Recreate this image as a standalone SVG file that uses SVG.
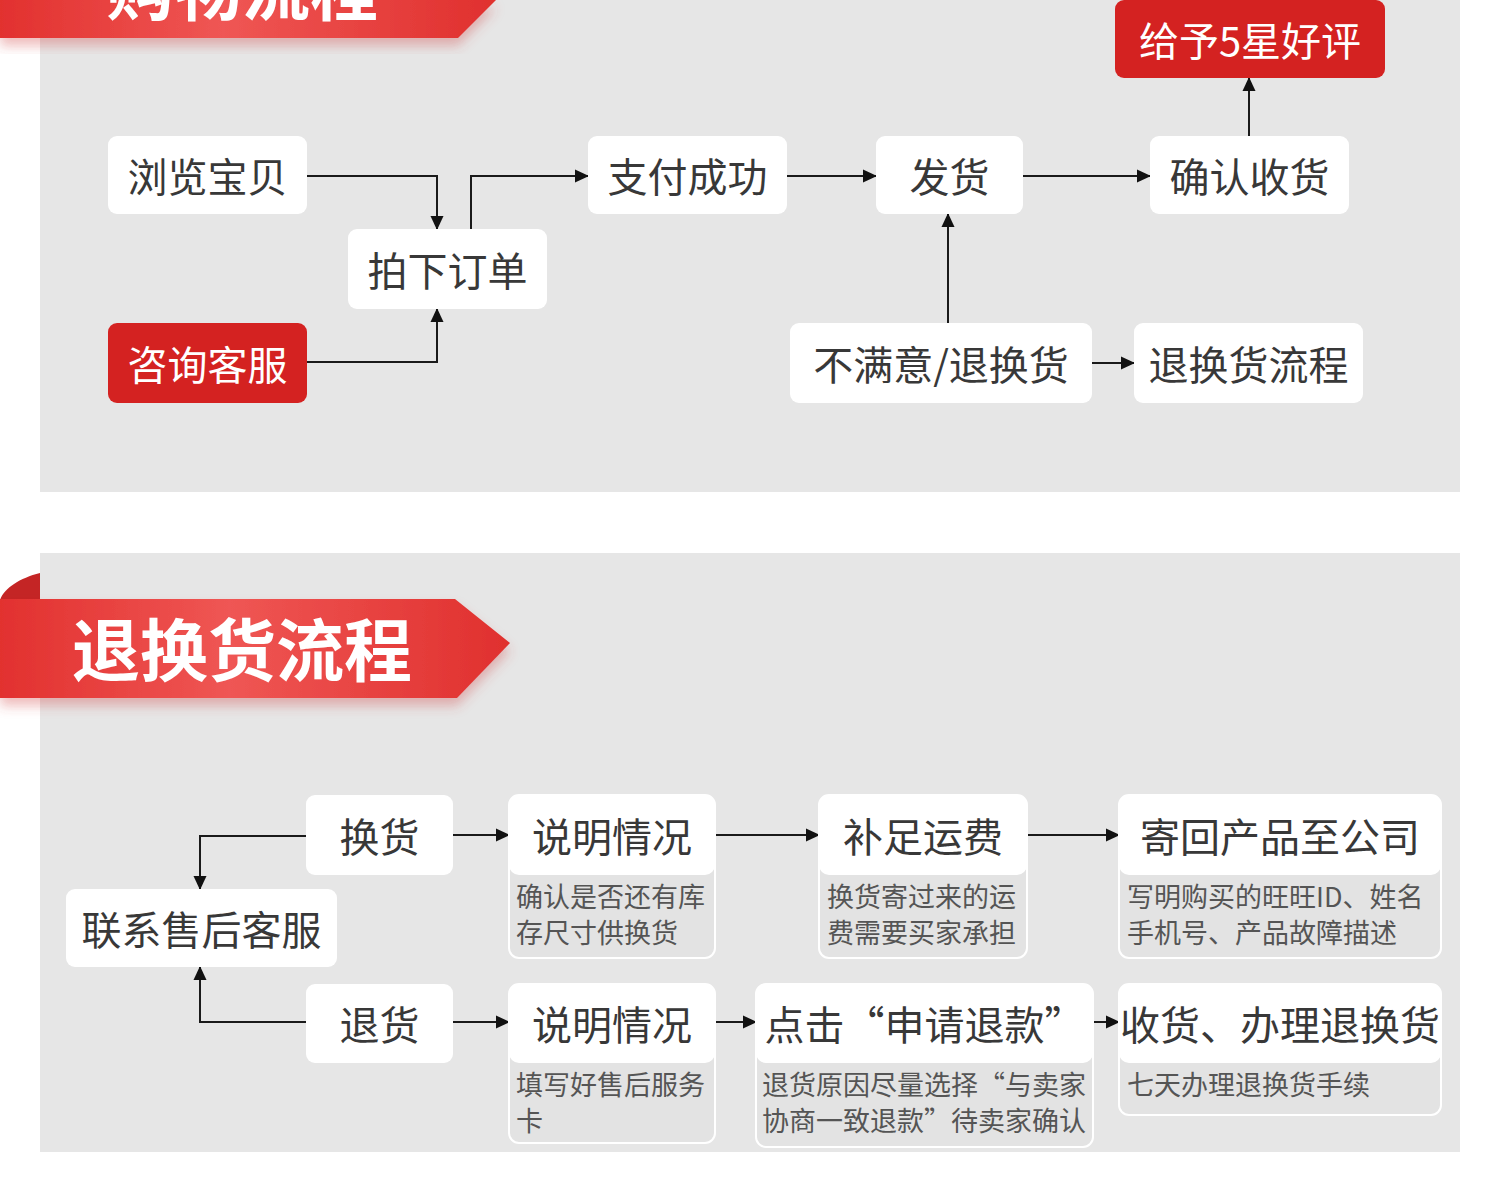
<svg xmlns="http://www.w3.org/2000/svg" width="1500" height="1193" viewBox="0 0 1500 1193">
<defs>
<linearGradient id="rib" x1="0" y1="0" x2="1" y2="0">
<stop offset="0" stop-color="#e2312f"/>
<stop offset="0.45" stop-color="#ef5654"/>
<stop offset="1" stop-color="#e0302e"/>
</linearGradient>
<filter id="sh" x="-10%" y="-20%" width="120%" height="160%">
<feDropShadow dx="0" dy="8" stdDeviation="6" flood-color="#d04040" flood-opacity="0.35"/>
</filter>
<marker id="ah" viewBox="0 0 14 16" refX="13" refY="8" markerWidth="14" markerHeight="16" markerUnits="userSpaceOnUse" orient="auto">
<path d="M0,1.5 L14,8 L0,14.5 Z" fill="#111111"/>
</marker>
<style>
text{font-family:"Noto Sans CJK SC","Noto Sans",sans-serif}
.n{fill:#ffffff}
.r{fill:#d42221}
.t{font-size:40px;fill:#383838;text-anchor:middle;dominant-baseline:central}
.tw{font-size:40px;fill:#ffffff;text-anchor:middle;dominant-baseline:central}
.sub{fill:#e3e3e3;stroke:#ffffff;stroke-width:2}
.s{font-size:27px;fill:#555555}
.ban{font-size:68px;font-weight:bold;fill:#ffffff;text-anchor:middle}
#connectors path{fill:none;stroke:#1a1a1a;stroke-width:2;marker-end:url(#ah)}
</style>
</defs>
<rect width="1500" height="1193" fill="#ffffff"/>
<rect x="40" y="0" width="1420" height="492" fill="#e6e6e6"/>
<rect x="40" y="553" width="1420" height="599" fill="#e6e6e6"/>

<g id="banner1">
<polygon points="0,0 496,0 458,38 0,38" fill="url(#rib)" filter="url(#sh)"/>
<text class="ban" x="242" y="15">购物流程</text>
</g>
<g id="banner2">
<path d="M40,573 C20,578 4,588 0,600 L40,600 Z" fill="#c42525"/>
<polygon points="0,599 455,599 510,643 457,698 0,698" fill="url(#rib)" filter="url(#sh)"/>
<text class="ban" x="242" y="676">退换货流程</text>
</g>

<g id="connectors">
<path d="M307,176 H437 V229"/>
<path d="M307,362 H437 V309"/>
<path d="M471,229 V176 H588"/>
<path d="M787,176 H876"/>
<path d="M1023,176 H1150"/>
<path d="M1249,136 V78"/>
<path d="M948,323 V214"/>
<path d="M1092,363 H1134"/>
<path d="M306,836 H200 V889"/>
<path d="M306,1022 H200 V967"/>
<path d="M453,835 H509"/>
<path d="M715,835 H819"/>
<path d="M1027,835 H1119"/>
<path d="M453,1022 H509"/>
<path d="M715,1022 H756"/>
<path d="M1093,1022 H1119"/>
</g>

<g id="n-browse"><rect class="n" x="108" y="136" width="199" height="78" rx="9"/><text class="t" x="207.5" y="175">浏览宝贝</text></g>
<g id="n-order"><rect class="n" x="348" y="229" width="199" height="80" rx="9"/><text class="t" x="447.5" y="269">拍下订单</text></g>
<g id="n-consult"><rect class="r" x="108" y="323" width="199" height="80" rx="9"/><text class="tw" x="207.5" y="363">咨询客服</text></g>
<g id="n-pay"><rect class="n" x="588" y="136" width="199" height="78" rx="9"/><text class="t" x="687.5" y="175">支付成功</text></g>
<g id="n-ship"><rect class="n" x="876" y="136" width="147" height="78" rx="9"/><text class="t" x="949.5" y="175">发货</text></g>
<g id="n-confirm"><rect class="n" x="1150" y="136" width="199" height="78" rx="9"/><text class="t" x="1249.5" y="175">确认收货</text></g>
<g id="n-rate"><rect class="r" x="1115" y="0" width="270" height="78" rx="9"/><text class="tw" x="1250" y="39">给予5星好评</text></g>
<g id="n-unsat"><rect class="n" x="790" y="323" width="302" height="80" rx="9"/><text class="t" x="941" y="363">不满意/退换货</text></g>
<g id="n-returnflow"><rect class="n" x="1134" y="323" width="229" height="80" rx="9"/><text class="t" x="1248.5" y="363">退换货流程</text></g>

<g id="n-aftersale"><rect class="n" x="66" y="889" width="271" height="78" rx="9"/><text class="t" x="201.5" y="928">联系售后客服</text></g>
<g id="n-exchange"><rect class="n" x="306" y="795" width="147" height="80" rx="9"/><text class="t" x="379.5" y="835">换货</text></g>
<g id="n-return"><rect class="n" x="306" y="984" width="147" height="79" rx="9"/><text class="t" x="379.5" y="1023">退货</text></g>

<g id="n-explain1">
<rect class="sub" x="509" y="795" width="206" height="163" rx="10"/>
<rect class="n" x="509" y="795" width="206" height="80" rx="10"/>
<text class="t" x="612" y="835">说明情况</text>
<text class="s" x="516" y="907">确认是否还有库</text>
<text class="s" x="516" y="943">存尺寸供换货</text>
</g>
<g id="n-freight">
<rect class="sub" x="819" y="795" width="208" height="163" rx="10"/>
<rect class="n" x="819" y="795" width="208" height="80" rx="10"/>
<text class="t" x="923" y="835">补足运费</text>
<text class="s" x="827" y="907">换货寄过来的运</text>
<text class="s" x="827" y="943">费需要买家承担</text>
</g>
<g id="n-sendback">
<rect class="sub" x="1119" y="795" width="322" height="163" rx="10"/>
<rect class="n" x="1119" y="795" width="322" height="80" rx="10"/>
<text class="t" x="1280" y="835">寄回产品至公司</text>
<text class="s" x="1127" y="907">写明购买的旺旺ID、姓名</text>
<text class="s" x="1127" y="943">手机号、产品故障描述</text>
</g>
<g id="n-explain2">
<rect class="sub" x="509" y="984" width="206" height="159" rx="10"/>
<rect class="n" x="509" y="984" width="206" height="79" rx="10"/>
<text class="t" x="612" y="1023">说明情况</text>
<text class="s" x="516" y="1095">填写好售后服务</text>
<text class="s" x="516" y="1131">卡</text>
</g>
<g id="n-refund">
<rect class="sub" x="756" y="984" width="337" height="163" rx="10"/>
<rect class="n" x="756" y="984" width="337" height="79" rx="10"/>
<text class="t" x="924.5" y="1023">点击“申请退款”</text>
<text class="s" x="762" y="1095">退货原因尽量选择“与卖家</text>
<text class="s" x="762" y="1131">协商一致退款”待卖家确认</text>
</g>
<g id="n-receive">
<rect class="sub" x="1119" y="984" width="322" height="131" rx="10"/>
<rect class="n" x="1119" y="984" width="322" height="79" rx="10"/>
<text class="t" x="1280" y="1023">收货、办理退换货</text>
<text class="s" x="1127" y="1095">七天办理退换货手续</text>
</g>
</svg>
